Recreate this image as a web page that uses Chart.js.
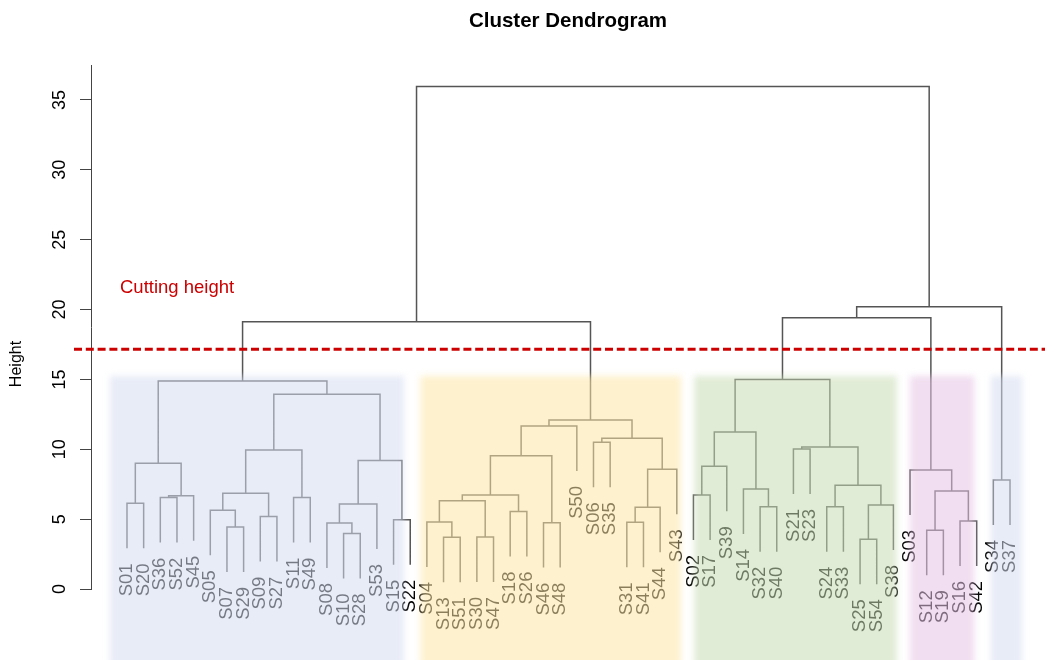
<!DOCTYPE html>
<html>
<head>
<meta charset="utf-8">
<title>Cluster Dendrogram</title>
<script src="https://cdn.jsdelivr.net/npm/chart.js@4.4.1/dist/chart.umd.min.js"></script>
<style>
  html, body { margin: 0; padding: 0; background: #ffffff; }
  #wrap { position: relative; width: 1045px; height: 660px; }
</style>
</head>
<body>
<div id="wrap"><canvas id="chart"></canvas></div>
<script>
// Leaves in plotting order, left to right
const leafLabels = [
  'S01','S20','S36','S52','S45','S05','S07','S29','S09','S27','S11','S49','S08','S10','S28','S53','S15','S22',
  'S04','S13','S51','S30','S47','S18','S26','S46','S48','S50','S06','S35','S31','S41','S44','S43',
  'S02','S17','S39','S14','S32','S40','S21','S23','S24','S33','S25','S54','S38',
  'S03','S12','S19','S16','S42',
  'S34','S37'
];

// Agglomeration steps: each joins two leaves (by name) or two earlier steps (by index)
const mergePairs = [
  ['S01','S20'], ['S36','S52'], [1,'S45'], [0,2],
  ['S07','S29'], ['S05',4], ['S09','S27'], [5,6], ['S11','S49'], [7,8],
  ['S10','S28'], ['S08',10], [11,'S53'], ['S15','S22'], [12,13], [9,14], [3,15],
  ['S13','S51'], ['S04',17], ['S30','S47'], [18,19], ['S18','S26'], [20,21],
  ['S46','S48'], [22,23], [24,'S50'], ['S06','S35'], ['S31','S41'], [27,'S44'],
  [28,'S43'], [26,29], [25,30],
  ['S02','S17'], [32,'S39'], ['S32','S40'], ['S14',34], [33,35],
  ['S21','S23'], ['S24','S33'], ['S25','S54'], [39,'S38'], [38,40], [37,41], [36,42],
  ['S12','S19'], ['S16','S42'], [44,45], ['S03',46],
  ['S34','S37'],
  [43,47], [49,48], [16,31], [51,50]
];
const mergeHeights = [
  6.13, 6.54, 6.68, 9.00,
  4.44, 5.63, 5.18, 6.85, 6.54, 9.95,
  3.98, 4.72, 6.08, 4.96, 9.19, 13.94, 14.89,
  3.70, 4.80, 3.72, 6.32, 5.54, 6.73,
  4.75, 9.54, 11.67, 10.50, 4.77, 5.85,
  8.57, 10.78, 12.10,
  6.73, 8.78, 5.89, 7.16, 11.24,
  10.02, 5.89, 3.56, 6.01, 7.42, 10.16, 15.00,
  4.20, 4.87, 7.01, 8.52,
  7.80,
  19.42, 20.20, 19.13, 35.96
];

// How far each leaf hangs below the step that joins it
const leafHang = 3.22;

const heightTicks = [0, 5, 10, 15, 20, 25, 30, 35];
const cutHeight = 17.16;
const cutLabel = 'Cutting height';

// Number of leaves in each cluster below the cut, left to right
const clusterSizes = [18, 16, 13, 5, 2];

// ---- styling ----
const FONT = "'Liberation Sans', Arial, Helvetica, sans-serif";
const LINE_COLOR = '#555555';
const CUT_COLOR = '#cc0000';
const bandFills = [
  'rgba(213,220,240,0.55)',
  'rgba(253,230,166,0.55)',
  'rgba(200,220,180,0.55)',
  'rgba(230,195,228,0.55)',
  'rgba(213,220,240,0.55)'
];
// band edge offsets (leaf units) from first / last leaf of each cluster
const bandInsets = [[-1.02, -0.37], [-0.38, 0.25], [0.05, 0.2], [0.0, -0.15], [-0.15, 0.72]];
const bandTopHeight = 15.25;

// ---- build elbow segments from the merge list ----
const leafIndex = {};
leafLabels.forEach((l, i) => { leafIndex[l] = i; });
const nodeX = [];
const leafEnd = new Array(leafLabels.length).fill(0);
const segPoints = [];

mergePairs.forEach((pair, k) => {
  const h = mergeHeights[k];
  const ends = pair.map(c => {
    if (typeof c === 'string') {
      const i = leafIndex[c];
      leafEnd[i] = h - leafHang;
      return { x: i, y: h - leafHang };
    }
    return { x: nodeX[c], y: mergeHeights[c] };
  });
  const [a, b] = ends;
  nodeX[k] = (a.x + b.x) / 2;
  segPoints.push(
    { x: a.x, y: a.y }, { x: a.x, y: h },
    { x: b.x, y: h }, { x: b.x, y: b.y },
    { x: b.x, y: null }
  );
});

const xMin = -2.16, xMax = 55.10;

const dendroDecor = {
  id: 'dendroDecor',
  afterDatasetsDraw(chart) {
    const ctx = chart.ctx;
    const xs = chart.scales.x, ys = chart.scales.y;
    const H = chart.height;

    // leaf labels, rotated to read upwards
    ctx.save();
    ctx.fillStyle = '#000000';
    ctx.font = '18.5px ' + FONT;
    ctx.textAlign = 'right';
    ctx.textBaseline = 'middle';
    leafLabels.forEach((lab, i) => {
      const px = xs.getPixelForValue(i);
      const py = ys.getPixelForValue(leafEnd[i]) + 15;
      ctx.save();
      ctx.translate(px, py);
      ctx.rotate(-Math.PI / 2);
      ctx.fillText(lab, 0, 0);
      ctx.restore();
    });
    ctx.restore();

    // translucent cluster bands laid over the lower tree
    let start = 0;
    const yTop = ys.getPixelForValue(bandTopHeight);
    clusterSizes.forEach((n, c) => {
      const first = start, last = start + n - 1;
      const x0 = xs.getPixelForValue(first + bandInsets[c][0]);
      const x1 = xs.getPixelForValue(last + bandInsets[c][1]);
      ctx.save();
      ctx.filter = 'blur(3px)';
      ctx.fillStyle = bandFills[c];
      ctx.fillRect(x0, yTop, x1 - x0, H - yTop + 30);
      ctx.restore();
      start += n;
    });

    // cut line
    const yc = ys.getPixelForValue(cutHeight);
    ctx.save();
    ctx.strokeStyle = CUT_COLOR;
    ctx.lineWidth = 3;
    ctx.setLineDash([8, 3.8]);
    ctx.beginPath();
    ctx.moveTo(74, yc);
    ctx.lineTo(chart.width, yc);
    ctx.stroke();
    ctx.restore();

    ctx.save();
    ctx.fillStyle = CUT_COLOR;
    ctx.font = '18.5px ' + FONT;
    ctx.textAlign = 'left';
    ctx.textBaseline = 'middle';
    ctx.fillText(cutLabel, 120, yc - 61);
    ctx.restore();
  },
  afterDraw(chart) {
    const ctx = chart.ctx;
    const ys = chart.scales.y;
    const area = chart.chartArea;

    // y tick labels parallel to the axis
    ctx.save();
    ctx.fillStyle = '#000000';
    ctx.font = '18px ' + FONT;
    ctx.textAlign = 'center';
    ctx.textBaseline = 'middle';
    heightTicks.forEach(v => {
      const py = ys.getPixelForValue(v);
      ctx.save();
      ctx.translate(60, py);
      ctx.rotate(-Math.PI / 2);
      ctx.fillText(String(v), 0, 0);
      ctx.restore();
    });
    // axis title
    ctx.font = '16px ' + FONT;
    ctx.save();
    ctx.translate(17, 364);
    ctx.rotate(-Math.PI / 2);
    ctx.fillText('Height', 0, 0);
    ctx.restore();
    // chart title
    ctx.font = 'bold 20.5px ' + FONT;
    ctx.fillText('Cluster Dendrogram', (area.left + area.right) / 2, 21);
    ctx.restore();
  }
};

new Chart(document.getElementById('chart'), {
  type: 'line',
  data: {
    datasets: [{
      data: segPoints,
      borderColor: LINE_COLOR,
      borderWidth: 1.5,
      pointRadius: 0,
      tension: 0,
      spanGaps: false,
      fill: false
    }]
  },
  options: {
    responsive: true,
    maintainAspectRatio: false,
    animation: false,
    layout: { padding: { top: 65, bottom: 71, left: 0, right: 0 } },
    plugins: {
      legend: { display: false },
      title: { display: false },
      tooltip: { enabled: false }
    },
    scales: {
      x: { type: 'linear', min: xMin, max: xMax, display: false },
      y: {
        type: 'linear',
        min: 0,
        max: 37.5,
        afterFit(scale) { scale.width = 91; },
        afterBuildTicks(scale) { scale.ticks = heightTicks.map(v => ({ value: v })); },
        ticks: { color: 'rgba(0,0,0,0)', font: { size: 18 } },
        grid: {
          drawOnChartArea: false,
          drawTicks: true,
          tickLength: 11,
          color: '#444444',
          lineWidth: 1
        },
        border: { display: true, color: '#444444', width: 1 }
      }
    }
  },
  plugins: [dendroDecor]
});
</script>
</body>
</html>
